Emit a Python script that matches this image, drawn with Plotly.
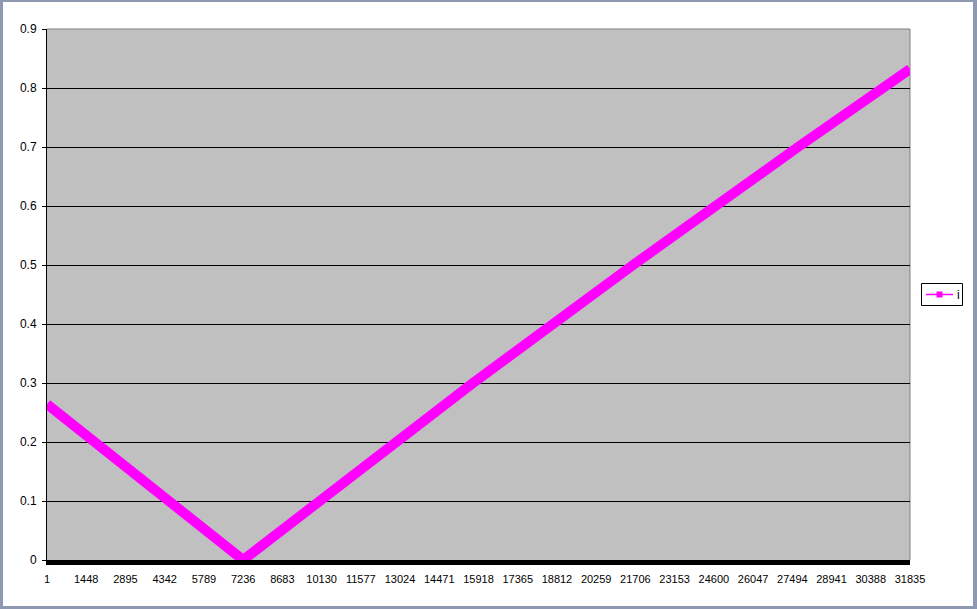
import plotly.graph_objects as go

# x category labels shown on the axis
tick_labels = [1, 1448, 2895, 4342, 5789, 7236, 8683, 10130, 11577, 13024, 14471,
               15918, 17365, 18812, 20259, 21706, 23153, 24600, 26047, 27494,
               28941, 30388, 31835]

# points for series "i"
x_vals = [1, 7236, 15716, 21619, 27705, 30767, 31835]
y_vals = [0.264, 0.0, 0.30, 0.50, 0.70, 0.80, 0.832]

series_name = "i"
y_ticks = [0, 0.1, 0.2, 0.3, 0.4, 0.5, 0.6, 0.7, 0.8, 0.9]

W, H = 977, 609
L, R, T, B = 47, 910, 29, 560
pw, ph = R - L, B - T

def px(x):
    return (x - L) / pw

def py(y):
    return (B - y) / ph

MAG = "#FF00FF"

fig = go.Figure()
fig.add_trace(go.Scatter(
    x=x_vals, y=y_vals, mode="lines", name=series_name,
    line=dict(color=MAG, width=10),
    showlegend=False, cliponaxis=False,
))

frame = "#8E98B0"
shapes = [
    # plot-area top and right border (gray)
    dict(type="line", xref="paper", yref="paper", x0=0, x1=1, y0=1, y1=1,
         line=dict(color="#808080", width=1), layer="below"),
    dict(type="line", xref="paper", yref="paper", x0=1, x1=1, y0=0, y1=1,
         line=dict(color="#808080", width=1), layer="below"),
    # outer window frame
    dict(type="rect", xref="paper", yref="paper", x0=px(0), x1=px(3), y0=py(H), y1=py(0),
         fillcolor=frame, line=dict(width=0)),
    dict(type="rect", xref="paper", yref="paper", x0=px(0), x1=px(W), y0=py(2), y1=py(0),
         fillcolor=frame, line=dict(width=0)),
    dict(type="rect", xref="paper", yref="paper", x0=px(973), x1=px(W), y0=py(H), y1=py(0),
         fillcolor=frame, line=dict(width=0)),
    dict(type="rect", xref="paper", yref="paper", x0=px(0), x1=px(W), y0=py(H), y1=py(606),
         fillcolor=frame, line=dict(width=0)),
    # legend box
    dict(type="rect", xref="paper", yref="paper", x0=px(921.5), x1=px(962.5),
         y0=py(305.5), y1=py(283.5), fillcolor="white", line=dict(color="black", width=1)),
    # legend sample line and marker
    dict(type="line", xref="paper", yref="paper", x0=px(926), x1=px(953),
         y0=py(294.5), y1=py(294.5), line=dict(color=MAG, width=1.5)),
    dict(type="rect", xref="paper", yref="paper", x0=px(936.5), x1=px(942.5),
         y0=py(297.5), y1=py(291.5), fillcolor=MAG, line=dict(width=0)),
]

annotations = [
    dict(xref="paper", yref="paper", x=px(955), y=py(294.5), xanchor="left",
         yanchor="middle", text=series_name, showarrow=False,
         font=dict(size=12, color="black")),
]

fig.update_layout(
    width=W, height=H,
    margin=dict(l=L, r=W - R, t=T, b=H - B, autoexpand=False),
    paper_bgcolor="white", plot_bgcolor="#C0C0C0",
    font=dict(family="Arial, Liberation Sans, sans-serif", size=11, color="black"),
    shapes=shapes, annotations=annotations,
    showlegend=False,
    xaxis=dict(range=[1, 31835], tickmode="array", tickvals=tick_labels,
               ticktext=[str(t) for t in tick_labels], showgrid=False,
               zeroline=False, showline=True, linecolor="black", linewidth=5,
               ticks="", tickfont=dict(size=11), ticklabelstandoff=5,
               automargin=False),
    yaxis=dict(range=[0, 0.9], tickmode="array", tickvals=y_ticks,
               ticktext=[("%g" % v) for v in y_ticks], showgrid=True,
               gridcolor="black", gridwidth=1, zeroline=False,
               showline=True, linecolor="black", linewidth=1,
               ticks="outside", ticklen=4, tickcolor="black",
               tickfont=dict(size=12), ticklabelstandoff=3, automargin=False),
)

fig.write_html("out.html",
               config={"displayModeBar": False},
               post_script="document.body.style.margin='0';"
                           "document.documentElement.style.overflow='hidden';")
